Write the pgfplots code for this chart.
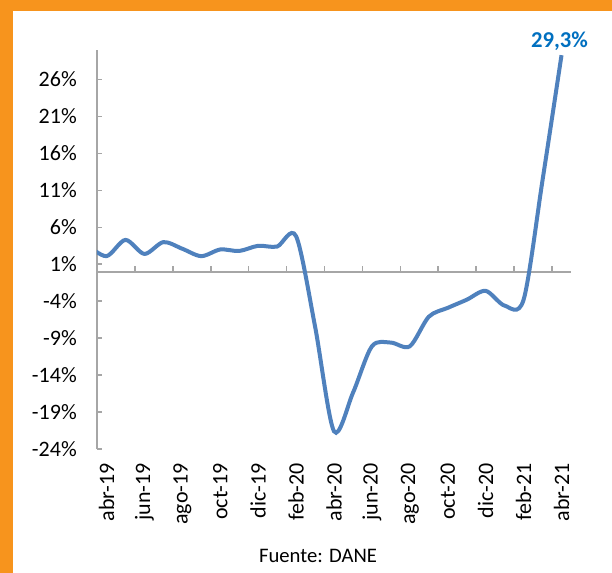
\documentclass[border=0pt]{standalone}
\usepackage{pgfplots}
\pgfplotsset{compat=1.18}
\usepackage{fontspec}
\setmainfont{Carlito}
\definecolor{marco}{HTML}{F7941D}
\definecolor{serie}{HTML}{4F81BD}
\definecolor{eje}{HTML}{A6A6A6}
\definecolor{dato}{HTML}{0070C0}

\begin{document}
\begin{tikzpicture}[x=0.75pt,y=0.75pt]
\fill[white] (0,0) rectangle (612,573);
\fill[marco] (0,0) rectangle (13,573);
\fill[marco] (0,562) rectangle (612,573);
\begin{axis}[
    at={(72.75pt,93pt)}, anchor=south west,
    scale only axis, width=355.5pt, height=299.25pt,
    xmin=-0.5, xmax=24.5, ymin=-24, ymax=30,
    axis y line*=left, axis x line*=bottom,
    x axis line style={draw=none},
    y axis line style={eje, line width=1.5pt},
    xtick={0,2,...,24},
    xticklabels={abr-19,jun-19,ago-19,oct-19,dic-19,feb-20,abr-20,jun-20,ago-20,oct-20,dic-20,feb-21,abr-21},
    xtick style={draw=none},
    ytick={-24,-19,...,26},
    yticklabels={-24\%,-19\%,-14\%,-9\%,-4\%,1\%,6\%,11\%,16\%,21\%,26\%},
    ytick align=inside,
    ytick style={eje, line width=1.2pt},
    major tick length=3.75pt,
    xticklabel style={rotate=90, anchor=east, inner xsep=10.5pt, inner ysep=0pt},
    yticklabel style={anchor=east, inner xsep=15pt, inner ysep=0pt},
    tick label style={font=\fontsize{16.5}{18}\selectfont, text=black},
]
% eje horizontal en 0 con sus marcas
\draw[eje, line width=1.5pt] (axis cs:-0.5,0) -- (axis cs:24.5,0);
\pgfplotsinvokeforeach{1.5,3.5,...,23.5}{
    \draw[eje, line width=1.2pt] (axis cs:#1,0) -- ++(0pt,4.5pt);
}
\addplot[serie, line width=3pt, smooth, no markers] coordinates {
    (-1,3.6)
    (0,2.1) (1,4.3) (2,2.4) (3,4.0) (4,3.1) (5,2.1) (6,3.0) (7,2.8)
    (8,3.5) (9,3.4) (10,4.8) (11,-7.4) (12,-21.6) (13,-16.4) (14,-10.1)
    (15,-9.6) (16,-10.1) (17,-6.1) (18,-4.9) (19,-3.8) (20,-2.6)
    (21,-4.6) (22,-3.8) (23,12.4) (24,29.3)
};
\coordinate (ultimo) at (axis cs:24,29.3);
\end{axis}
\node[anchor=base, text=dato, font=\bfseries\fontsize{17}{18}\selectfont, inner sep=0pt]
    at ([xshift=-1.5pt, yshift=6pt]ultimo) {29,3\%};
\node[font=\fontsize{15.5}{18}\selectfont] at (318,17) {Fuente: DANE};
\pgfresetboundingbox
\useasboundingbox (0,0) rectangle (612,573);
\end{tikzpicture}
\end{document}
